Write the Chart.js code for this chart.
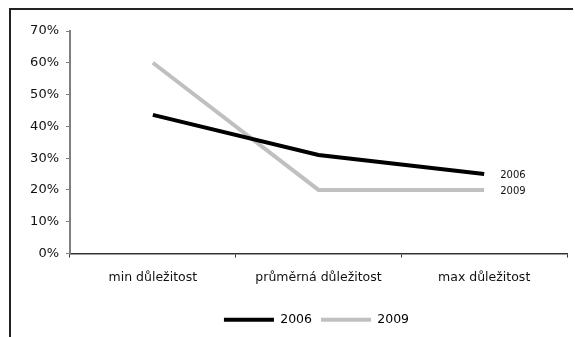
<!DOCTYPE html>
<html>
<head>
<meta charset="utf-8">
<script src="https://cdn.jsdelivr.net/npm/chart.js@4"></script>
<style>
  html, body { margin: 0; background: #fff; overflow: hidden; }
  canvas { display: block; }
</style>
</head>
<body>
<canvas id="myChart" width="575" height="337"></canvas>
<script>
// categories and values (percent)
const categories = ["min důležitost", "průměrná důležitost", "max důležitost"];
const years = ["2006", "2009"];
const data2006 = [43.6, 31, 25];
const data2009 = [60, 20, 20];
const yTicks = [0, 10, 20, 30, 40, 50, 60, 70];

const fontFamily = "'DejaVu Sans', sans-serif";

// outer frame: only the top and left edges are visible in the original
const frame = {
  id: 'frame',
  beforeDraw(chart) {
    const ctx = chart.ctx;
    ctx.save();
    ctx.strokeStyle = '#222';
    ctx.lineWidth = 2;
    ctx.beginPath();
    ctx.moveTo(10, chart.height);
    ctx.lineTo(10, 9);
    ctx.lineTo(573, 9);
    ctx.stroke();
    ctx.restore();
  }
};

// small year labels next to the last point of each line
const endLabels = {
  id: 'endLabels',
  afterDatasetsDraw(chart) {
    const ctx = chart.ctx;
    ctx.save();
    ctx.font = '10px ' + fontFamily;
    ctx.fillStyle = '#111';
    ctx.textBaseline = 'middle';
    chart.data.datasets.forEach((ds, i) => {
      const meta = chart.getDatasetMeta(i);
      const last = meta.data[meta.data.length - 1];
      ctx.fillText(ds.label, last.x + 16, last.y + 1);
    });
    ctx.restore();
  }
};

// legend in the original sits a bit right of centre
const legendShift = {
  id: 'legendShift',
  afterLayout(chart) {
    chart.legend.left += 33;
    chart.legend.right += 33;
  }
};

const ctx = document.getElementById('myChart').getContext('2d');
const myChart = new Chart(ctx, {
  type: 'line',
  data: {
    labels: categories,
    datasets: [
      {
        label: years[0],
        data: data2006,
        borderColor: '#000000',
        backgroundColor: '#000000',
        borderWidth: 4,
        pointRadius: 0,
        tension: 0,
        fill: false,
      },
      {
        label: years[1],
        data: data2009,
        borderColor: '#c0c0c0',
        backgroundColor: '#c0c0c0',
        borderWidth: 4,
        pointRadius: 0,
        tension: 0,
        fill: false,
      },
    ],
  },
  options: {
    responsive: false,
    animation: false,
    layout: {
      padding: { left: 0, top: 31, right: 8, bottom: 1 }
    },
    plugins: {
      tooltip: { enabled: false },
      legend: {
        position: 'bottom',
        labels: {
          boxWidth: 50,
          boxHeight: 4,
          padding: 9,
          color: '#111',
          font: { family: fontFamily, size: 12.5 },
          generateLabels(chart) {
            return chart.data.datasets.map((ds, i) => ({
              text: ds.label,
              fillStyle: ds.borderColor,
              strokeStyle: ds.borderColor,
              lineWidth: 0,
              datasetIndex: i,
            }));
          }
        }
      }
    },
    scales: {
      x: {
        offset: true,
        grid: {
          offset: true,
          drawOnChartArea: false,
          drawTicks: true,
          tickLength: 4,
          color: '#333',
        },
        border: { color: '#333', width: 1.5 },
        ticks: {
          color: '#111',
          padding: 13,
          maxRotation: 0,
          font: { family: fontFamily, size: 12.5 },
        },
        afterFit(scale) { scale.height = 51; }
      },
      y: {
        min: 0,
        max: 70,
        grid: {
          drawOnChartArea: false,
          drawTicks: true,
          tickLength: 4,
          color: '#808080',
        },
        border: { color: '#808080', width: 2 },
        ticks: {
          stepSize: 10,
          color: '#111',
          padding: 7,
          font: { family: fontFamily, size: 13 },
          callback: (v) => yTicks.includes(v) ? v + '%' : '',
        },
        afterFit(scale) { scale.width = 70; }
      }
    }
  },
  plugins: [frame, endLabels, legendShift],
});
</script>
</body>
</html>
